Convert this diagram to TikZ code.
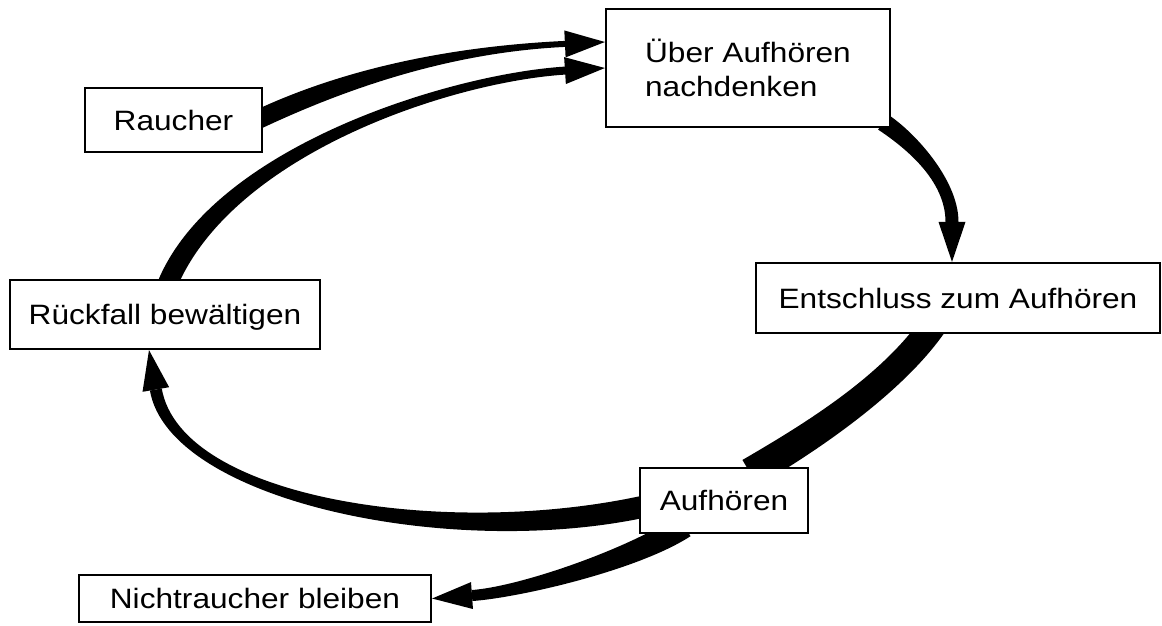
\documentclass[tikz,border=0pt]{standalone}
\usepackage{fontspec}
\setmainfont{Liberation Sans}[FakeStretch=1.13]
\usetikzlibrary{calc,backgrounds}

% tapered band: from, control 1, control 2, to, width at start, width at end
\newcommand\flowband[6]{%
  \coordinate (fs) at #1;
  \coordinate (fa) at #2;
  \coordinate (fb) at #3;
  \coordinate (fe) at #4;
  \coordinate (fsl) at ($(fs)!#5/2!90:(fa)$);
  \coordinate (fsr) at ($(fs)!#5/2!-90:(fa)$);
  \coordinate (fel) at ($(fe)!#6/2!-90:(fb)$);
  \coordinate (fer) at ($(fe)!#6/2!90:(fb)$);
  \fill (fsl) .. controls ($(fa)+(fsl)-(fs)$) and ($(fb)+(fel)-(fe)$) .. (fel)
    -- (fer) .. controls ($(fb)+(fer)-(fe)$) and ($(fa)+(fsr)-(fs)$) .. (fsr) -- cycle;
}
% tapered band with a head: from, control 1, control 2, tip, width at start, width at end
\newcommand\flowarrow[6]{%
  \coordinate (ft) at #4;
  \coordinate (fh) at ($(ft)!40pt!#3$);
  \flowband{#1}{#2}{#3}{(fh)}{#5}{#6}
  \fill (ft) -- ($(fh)!13.5pt!90:(ft)$) -- ($(fh)!13.5pt!-90:(ft)$) -- cycle;
}

\begin{document}
\begin{tikzpicture}[
    x=1pt, y=-1pt,
    font=\fontsize{28}{34}\selectfont,
    box/.style={rectangle, draw, line width=2.2pt, fill=white, inner sep=0pt, text depth=0pt}
]
\useasboundingbox (0,0) rectangle (1162,625);

% Raucher
\node[box, minimum width=177pt, minimum height=64pt] (raucher) at (173.5,120) {Raucher};

% Ueber Aufhoeren nachdenken
\node[box, minimum width=284pt, minimum height=118pt, align=left] (think) at (748,68) {Über Aufhören\\nachdenken};

% Entschluss
\node[box, minimum width=404pt, minimum height=70pt] (decide) at (958,298) {Entschluss zum Aufhören};

% Rueckfall
\node[box, minimum width=310pt, minimum height=69pt] (relapse) at (165,314.5) {Rückfall bewältigen};

% Aufhoeren
\node[box, minimum width=168pt, minimum height=65pt] (quit) at (724,500.5) {Aufhören};

% Nichtraucher
\node[box, minimum width=352pt, minimum height=47pt] (stay) at (255,598.5) {Nichtraucher bleiben};

% Arrows
\begin{scope}[on background layer]
\flowarrow{($(raucher.east)+(-4,-1)$)}{(353,75)}{(458,49)}{($(think.west)+(0,-26)$)}{19pt}{6pt}
\flowarrow{($(relapse.north)+(3,4)$)}{(225,150)}{(450,78)}{(think.west)}{20pt}{8pt}
\flowarrow{($(think.south east)+(-8,-6)$)}{(910,140)}{(952,180)}{($(decide.north)+(-6,0)$)}{18pt}{13pt}
\flowband{($(decide.south)+(-24,-10)$)}{(892,385)}{(810,438)}{($(quit.north)+(26,6)$)}{27pt}{30pt}
\flowarrow{($(quit.south)+(-40,-8)$)}{(632,560)}{(520,592)}{(stay.east)}{24pt}{11pt}
\flowarrow{($(quit.west)+(10,5)$)}{(450,550)}{(175,500)}{($(relapse.south)+(-16,0)$)}{22pt}{12pt}
\end{scope}

\end{tikzpicture}
\end{document}
